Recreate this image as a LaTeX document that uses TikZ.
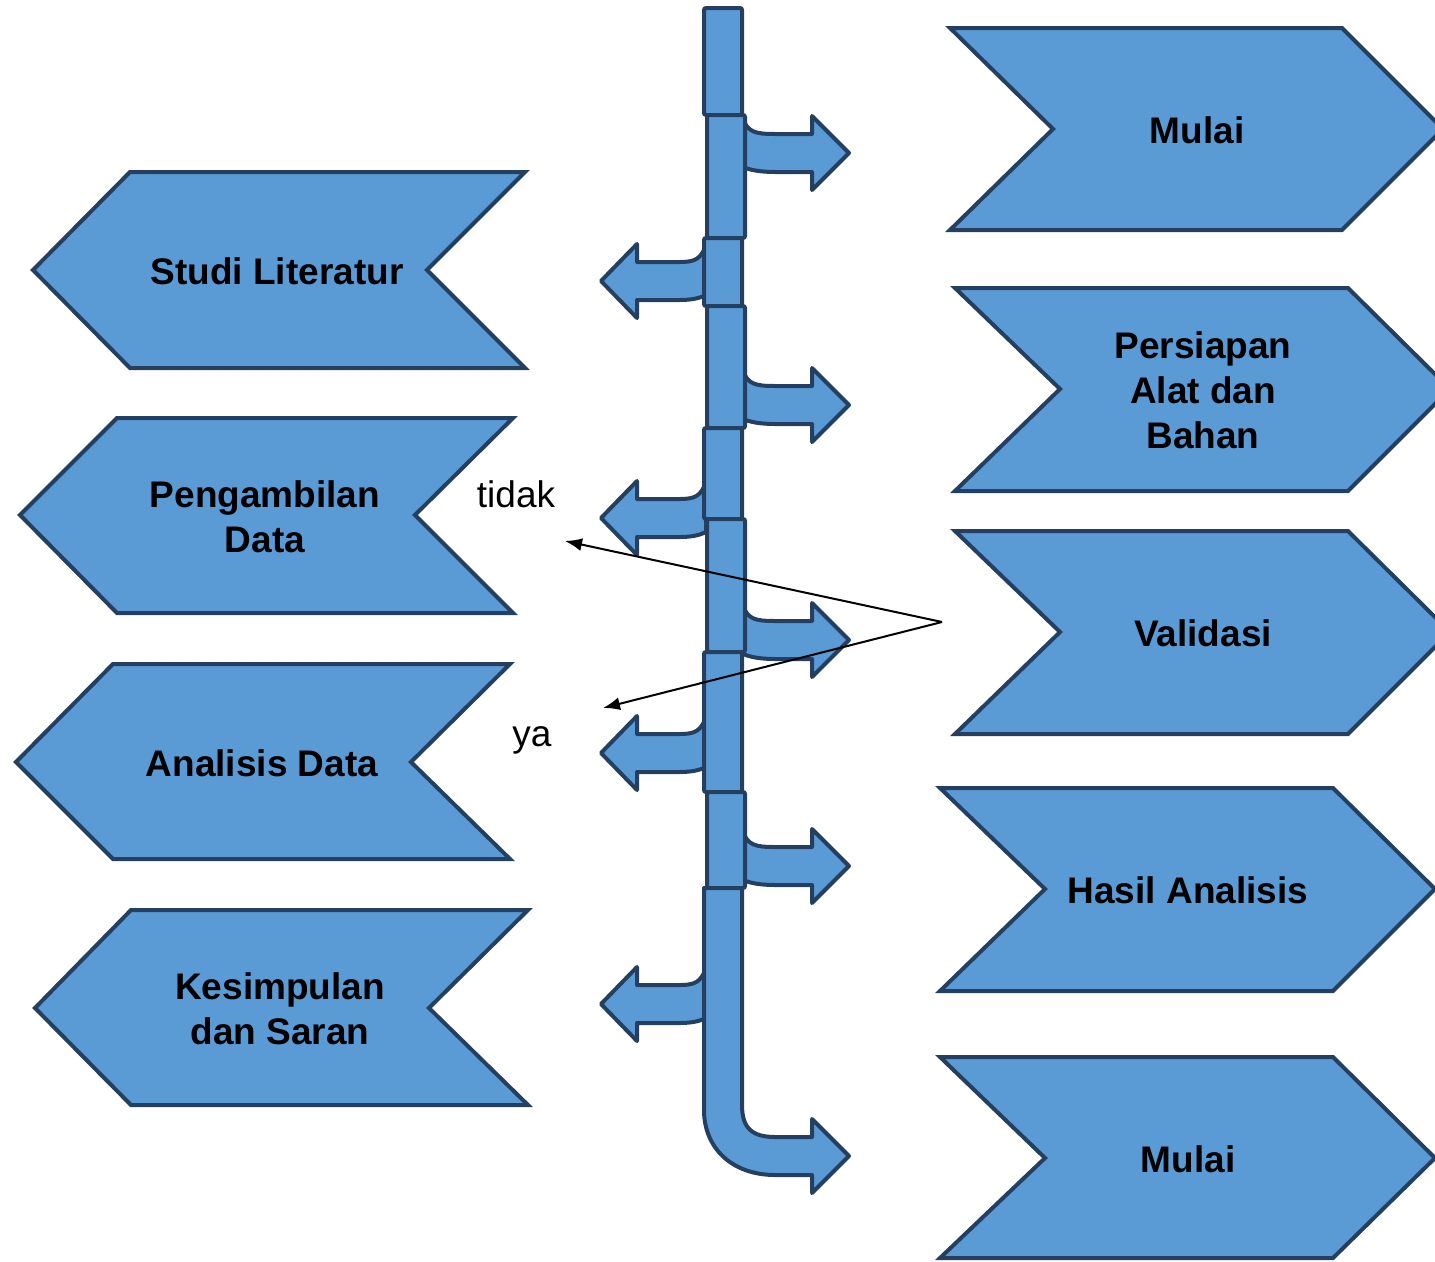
\documentclass[tikz,border=0pt]{standalone}
\usepackage{fontspec}
\setmainfont{Liberation Sans}
\usetikzlibrary{arrows.meta}
\definecolor{boxblue}{HTML}{5B9BD5}
\definecolor{boxline}{HTML}{243F60}
\begin{document}
\begin{tikzpicture}[
    x=1pt, y=-1pt,
    chev/.style={fill=boxblue, draw=boxline, line width=4pt, line join=miter},
    pipe/.style={fill=boxblue, draw=boxline, line width=4pt, line join=round},
    seg/.style={fill=boxblue, draw=boxline, line width=4pt, rounded corners=2pt},
    lbl/.style={font=\fontsize{37}{45}\selectfont\bfseries, align=center, text=black},
    note/.style={font=\fontsize{37}{45}\selectfont, text=black},
    arrow/.style={-{Latex[length=17pt,width=13pt]}, line width=2pt}
]
\useasboundingbox (0,0) rectangle (1435,1261);

% Right side
\draw[chev] (950,28) -- (1342,28) -- (1443,129) -- (1342,230) -- (950,230) -- (1053,129) -- cycle;
\draw[chev] (955,288) -- (1348,288) -- (1450,389) -- (1348,491) -- (955,491) -- (1060,389) -- cycle;
\draw[chev] (955,531) -- (1348,531) -- (1450,632) -- (1348,734) -- (955,734) -- (1060,632) -- cycle;
\draw[chev] (940,788) -- (1333,788) -- (1435,889) -- (1333,991) -- (940,991) -- (1045,889) -- cycle;
\draw[chev] (940,1057) -- (1333,1057) -- (1435,1158) -- (1333,1258) -- (940,1258) -- (1045,1158) -- cycle;

% Left side
\draw[chev] (525,172) -- (130,172) -- (33,270) -- (130,368) -- (525,368) -- (427,270) -- cycle;
\draw[chev] (513,418) -- (117,418) -- (20,515) -- (117,613) -- (513,613) -- (415,515) -- cycle;
\draw[chev] (510,664) -- (113,664) -- (16,762) -- (113,859) -- (510,859) -- (411,762) -- cycle;
\draw[chev] (528,910) -- (131,910) -- (35,1008) -- (131,1105) -- (528,1105) -- (429,1008) -- cycle;

% Branches of the spine
\draw[pipe] (743,119) .. controls (748,132) and (755,134) .. (775,134) -- (812,134) -- (812,116) -- (849,153) -- (812,190) -- (812,172) -- (775,172) .. controls (760,172) and (750,170) .. (743,167) -- cycle;
\draw[pipe] (743,371) .. controls (748,384) and (755,386) .. (775,386) -- (812,386) -- (812,368) -- (849,405) -- (812,442) -- (812,424) -- (775,424) .. controls (760,424) and (750,422) .. (743,419) -- cycle;
\draw[pipe] (743,606) .. controls (748,619) and (755,621) .. (775,621) -- (812,621) -- (812,603) -- (849,640) -- (812,677) -- (812,659) -- (775,659) .. controls (760,659) and (750,657) .. (743,654) -- cycle;
\draw[pipe] (743,832) .. controls (748,845) and (755,847) .. (775,847) -- (812,847) -- (812,829) -- (849,866) -- (812,903) -- (812,885) -- (775,885) .. controls (760,885) and (750,883) .. (743,880) -- cycle;
\draw[pipe] (706,245) .. controls (701,259) and (695,262) .. (680,262) -- (637,262) -- (637,244) -- (601,281) -- (637,318) -- (637,300) -- (680,300) .. controls (692,300) and (700,298) .. (706,295) -- cycle;
\draw[pipe] (706,482) .. controls (701,496) and (695,499) .. (680,499) -- (637,499) -- (637,481) -- (601,518) -- (637,555) -- (637,537) -- (680,537) .. controls (692,537) and (700,535) .. (706,532) -- cycle;
\draw[pipe] (706,717) .. controls (701,731) and (695,734) .. (680,734) -- (637,734) -- (637,716) -- (601,753) -- (637,790) -- (637,772) -- (680,772) .. controls (692,772) and (700,770) .. (706,767) -- cycle;
\draw[pipe] (706,968) .. controls (701,982) and (695,985) .. (680,985) -- (637,985) -- (637,967) -- (601,1004) -- (637,1041) -- (637,1023) -- (680,1023) .. controls (692,1023) and (700,1021) .. (706,1018) -- cycle;

% Spine
\draw[seg] (704,8) rectangle (742,115);
\draw[seg] (707,115) rectangle (745,238);
\draw[seg] (704,238) rectangle (742,306);
\draw[seg] (707,306) rectangle (745,428);
\draw[seg] (704,428) rectangle (742,519);
\draw[seg] (707,519) rectangle (745,652);
\draw[seg] (704,652) rectangle (742,792);
\draw[seg] (707,792) rectangle (745,888);
\draw[pipe] (704,888) -- (742,888) -- (742,1105) .. controls (742,1128) and (752,1137) .. (775,1137) -- (812,1137) -- (812,1119) -- (849,1156) -- (812,1193) -- (812,1175) -- (775,1175) .. controls (732,1175) and (704,1148) .. (704,1110) -- cycle;

% Labels
\node[lbl] (mulai) at (1197,130) {Mulai};
\node[lbl] (persiapan) at (1203,390) {Persiapan\\Alat dan\\Bahan};
\node[lbl] (validasi) at (1203,633) {Validasi};
\node[lbl] (hasil) at (1188,890) {Hasil Analisis};
\node[lbl] (selesai) at (1188,1159) {Mulai};
\node[lbl] (studi) at (277,271) {Studi Literatur};
\node[lbl] (pengambilan) at (265,517) {Pengambilan\\Data};
\node[lbl] (analisis) at (262,763) {Analisis Data};
\node[lbl] (kesimpulan) at (280,1009) {Kesimpulan\\dan Saran};
\node[note] (tidak) at (516,494) {tidak};
\node[note] (ya) at (532,740) {ya};

% Arrows
\coordinate (valid) at (942,622);
\coordinate (back) at (565,541);
\coordinate (next) at (603,708);
\draw[arrow] (valid) -- (back);
\draw[arrow] (valid) -- (next);
\end{tikzpicture}
\end{document}
